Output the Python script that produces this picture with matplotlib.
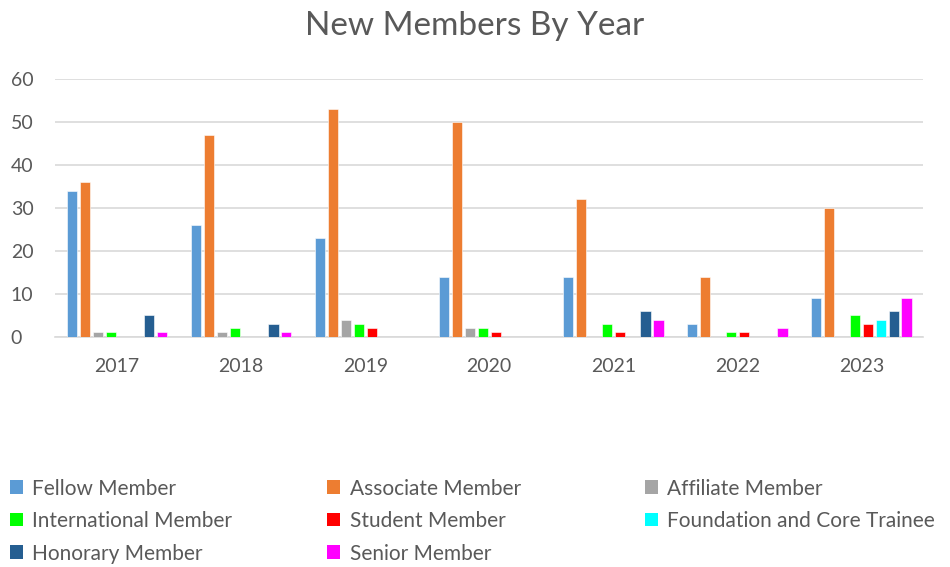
import matplotlib
matplotlib.use("Agg")
import matplotlib.pyplot as plt
import numpy as np
from matplotlib.patches import Patch

years = ["2017", "2018", "2019", "2020", "2021", "2022", "2023"]
series_names = ["Fellow Member", "Associate Member", "Affiliate Member",
                "International Member", "Student Member",
                "Foundation and Core Trainee", "Honorary Member", "Senior Member"]
fellow = [34, 26, 23, 14, 14, 3, 9]
associate = [36, 47, 53, 50, 32, 14, 30]
affiliate = [1, 1, 4, 2, 0, 0, 0]
international = [1, 2, 3, 2, 3, 1, 5]
student = [0, 0, 2, 1, 1, 1, 3]
foundation = [0, 0, 0, 0, 0, 0, 4]
honorary = [5, 3, 0, 0, 6, 0, 6]
senior = [1, 1, 0, 0, 4, 2, 9]
yticks = [0, 10, 20, 30, 40, 50, 60]

series = [fellow, associate, affiliate, international, student, foundation, honorary, senior]
colors = ["#5B9BD5", "#ED7D31", "#A5A5A5", "#00FF00", "#FF0000", "#00FFFF", "#255E91", "#FF00FF"]

plt.rcParams['font.family'] = ['Lato', 'DejaVu Sans']
txt = "#595959"

fig = plt.figure(figsize=(9.5, 5.67), dpi=100)
ax = fig.add_axes([0.058, 0.406, 0.914, 0.455])

x = np.arange(len(years))
n = len(series)
step = 0.104
width = 0.082
for i, (vals, c) in enumerate(zip(series, colors)):
    ax.bar(x + (i - (n - 1) / 2) * step, vals, width=width, color=c, zorder=3,
           edgecolor="white", linewidth=0.4)

ax.set_xlim(-0.5, len(years) - 0.5)
ax.set_ylim(0, 60)
ax.set_yticks(yticks)
ax.set_xticks(x)
ax.set_xticklabels(years)
ax.grid(axis="y", color="#D9D9D9", linewidth=1.2, zorder=0)
for s in ["top", "right", "left"]:
    ax.spines[s].set_visible(False)
ax.spines["bottom"].set_color("#D9D9D9")
ax.spines["bottom"].set_linewidth(1.2)
ax.tick_params(axis="both", length=0, labelsize=14, colors=txt)
ax.tick_params(axis="x", pad=15)
ax.tick_params(axis="y", pad=32)
for lbl in ax.get_yticklabels():
    lbl.set_horizontalalignment("left")

fig.text(0.5, 0.955, "New Members By Year", ha="center", va="center", fontsize=24, color=txt)

cols = [[0, 3, 6], [1, 4, 7], [2, 5]]
col_x = [0.004, 0.338, 0.672]
for xi, idxs in zip(col_x, cols):
    handles = [Patch(facecolor=colors[i], label=series_names[i]) for i in idxs]
    leg = fig.legend(handles=handles, loc="upper left", bbox_to_anchor=(xi, 0.167),
                     frameon=False, fontsize=15, labelcolor=txt,
                     handlelength=0.62, handleheight=0.62, handletextpad=0.45,
                     labelspacing=0.6, borderaxespad=0.0, borderpad=0.3)

fig.savefig("out.png", dpi=100)
